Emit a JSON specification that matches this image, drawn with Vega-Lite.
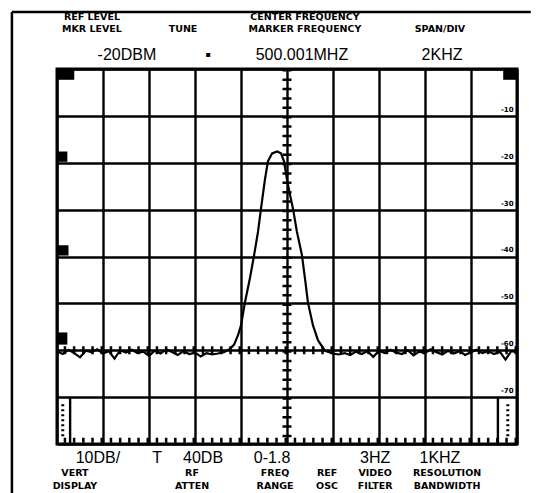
{
  "$schema": "https://vega.github.io/schema/vega-lite/v6.json",
  "width": 460,
  "height": 375,
  "autosize": {"type": "none"},
  "padding": {"left": 57, "top": 69, "right": 40, "bottom": 49},
  "background": "white",
  "config": {"view": {"stroke": "black", "strokeWidth": 3}},
  "data": {"values": [{}]},
  "datasets": {
    "trace": [
      {"kHz": -10, "dB": -60.2}, {"kHz": -9.75, "dB": -60.8}, {"kHz": -9.5, "dB": -59.9}, {"kHz": -9.25, "dB": -60.6},
      {"kHz": -9.0, "dB": -61.5}, {"kHz": -8.75, "dB": -60.1}, {"kHz": -8.5, "dB": -60.4}, {"kHz": -8.25, "dB": -59.8},
      {"kHz": -8.0, "dB": -60.7}, {"kHz": -7.75, "dB": -60.2}, {"kHz": -7.5, "dB": -61.8}, {"kHz": -7.25, "dB": -60.0},
      {"kHz": -7.0, "dB": -60.5}, {"kHz": -6.75, "dB": -59.9}, {"kHz": -6.5, "dB": -60.6}, {"kHz": -6.25, "dB": -60.3},
      {"kHz": -6.0, "dB": -61.2}, {"kHz": -5.75, "dB": -60.1}, {"kHz": -5.5, "dB": -60.7}, {"kHz": -5.25, "dB": -59.8},
      {"kHz": -5.0, "dB": -60.4}, {"kHz": -4.75, "dB": -61.0}, {"kHz": -4.5, "dB": -60.2}, {"kHz": -4.25, "dB": -60.8},
      {"kHz": -4.0, "dB": -60.5}, {"kHz": -3.75, "dB": -61.3}, {"kHz": -3.5, "dB": -60.6}, {"kHz": -3.25, "dB": -60.9},
      {"kHz": -3.0, "dB": -60.7}, {"kHz": -2.75, "dB": -60.4}, {"kHz": -2.5, "dB": -59.8}, {"kHz": -2.3, "dB": -58.8},
      {"kHz": -2.13, "dB": -56.8}, {"kHz": -2.0, "dB": -54.7}, {"kHz": -1.83, "dB": -49.8}, {"kHz": -1.61, "dB": -44.6},
      {"kHz": -1.43, "dB": -39.7}, {"kHz": -1.26, "dB": -34.7}, {"kHz": -1.13, "dB": -29.8}, {"kHz": -0.96, "dB": -23.6},
      {"kHz": -0.83, "dB": -19.7}, {"kHz": -0.65, "dB": -18.0}, {"kHz": -0.43, "dB": -17.6}, {"kHz": -0.26, "dB": -18.0},
      {"kHz": -0.13, "dB": -19.7}, {"kHz": 0.0, "dB": -23.6}, {"kHz": 0.13, "dB": -26.8}, {"kHz": 0.26, "dB": -29.8},
      {"kHz": 0.43, "dB": -34.7}, {"kHz": 0.65, "dB": -39.7}, {"kHz": 0.78, "dB": -44.6}, {"kHz": 0.91, "dB": -49.8},
      {"kHz": 1.13, "dB": -54.7}, {"kHz": 1.35, "dB": -57.9}, {"kHz": 1.65, "dB": -60.1}, {"kHz": 2.0, "dB": -60.7},
      {"kHz": 2.25, "dB": -60.9}, {"kHz": 2.5, "dB": -60.6}, {"kHz": 2.75, "dB": -61.0}, {"kHz": 3.0, "dB": -60.3},
      {"kHz": 3.25, "dB": -60.8}, {"kHz": 3.5, "dB": -60.2}, {"kHz": 3.75, "dB": -61.4}, {"kHz": 4.0, "dB": -60.1},
      {"kHz": 4.25, "dB": -60.6}, {"kHz": 4.5, "dB": -59.9}, {"kHz": 4.75, "dB": -60.5}, {"kHz": 5.0, "dB": -60.8},
      {"kHz": 5.25, "dB": -60.0}, {"kHz": 5.5, "dB": -61.1}, {"kHz": 5.75, "dB": -60.3}, {"kHz": 6.0, "dB": -60.6},
      {"kHz": 6.25, "dB": -59.8}, {"kHz": 6.5, "dB": -60.4}, {"kHz": 6.75, "dB": -60.9}, {"kHz": 7.0, "dB": -60.1},
      {"kHz": 7.25, "dB": -60.7}, {"kHz": 7.5, "dB": -60.2}, {"kHz": 7.75, "dB": -61.0}, {"kHz": 8.0, "dB": -60.4},
      {"kHz": 8.25, "dB": -59.9}, {"kHz": 8.5, "dB": -60.6}, {"kHz": 8.75, "dB": -60.2}, {"kHz": 9.0, "dB": -60.8},
      {"kHz": 9.25, "dB": -60.3}, {"kHz": 9.5, "dB": -62.0}, {"kHz": 9.75, "dB": -60.2}, {"kHz": 10.0, "dB": -60.4}
    ],
    "labels": [
      {"text": "REF LEVEL", "kind": "head", "kHz": -8.48, "dB": 11.0},
      {"text": "MKR LEVEL", "kind": "head", "kHz": -8.48, "dB": 8.6},
      {"text": "TUNE", "kind": "head", "kHz": -4.52, "dB": 8.6},
      {"text": "CENTER FREQUENCY", "kind": "head", "kHz": 0.78, "dB": 11.0},
      {"text": "MARKER FREQUENCY", "kind": "head", "kHz": 0.78, "dB": 8.6},
      {"text": "SPAN/DIV", "kind": "head", "kHz": 6.65, "dB": 8.6},
      {"text": "-20DBM", "kind": "value", "kHz": -6.96, "dB": 2.99},
      {"text": "▪", "kind": "value", "kHz": -3.43, "dB": 2.99},
      {"text": "500.001MHZ", "kind": "value", "kHz": 0.65, "dB": 2.99},
      {"text": "2KHZ", "kind": "value", "kHz": 6.74, "dB": 2.99},
      {"text": "10DB/", "kind": "value", "kHz": -8.22, "dB": -82.99},
      {"text": "T", "kind": "value", "kHz": -5.65, "dB": -82.99},
      {"text": "40DB", "kind": "value", "kHz": -3.65, "dB": -82.99},
      {"text": "0-1.8", "kind": "value", "kHz": -0.65, "dB": -82.99},
      {"text": "3HZ", "kind": "value", "kHz": 3.83, "dB": -82.99},
      {"text": "1KHZ", "kind": "value", "kHz": 6.65, "dB": -82.99},
      {"text": "VERT", "kind": "head", "kHz": -9.22, "dB": -86.19},
      {"text": "DISPLAY", "kind": "head", "kHz": -9.22, "dB": -88.96},
      {"text": "RF", "kind": "head", "kHz": -4.13, "dB": -86.19},
      {"text": "ATTEN", "kind": "head", "kHz": -4.13, "dB": -88.96},
      {"text": "FREQ", "kind": "head", "kHz": -0.52, "dB": -86.19},
      {"text": "RANGE", "kind": "head", "kHz": -0.52, "dB": -88.96},
      {"text": "REF", "kind": "head", "kHz": 1.74, "dB": -86.19},
      {"text": "OSC", "kind": "head", "kHz": 1.74, "dB": -88.96},
      {"text": "VIDEO", "kind": "head", "kHz": 3.83, "dB": -86.19},
      {"text": "FILTER", "kind": "head", "kHz": 3.83, "dB": -88.96},
      {"text": "RESOLUTION", "kind": "head", "kHz": 6.96, "dB": -86.19},
      {"text": "BANDWIDTH", "kind": "head", "kHz": 6.96, "dB": -88.96},
      {"text": "-10", "kind": "scale", "kHz": 9.85, "dB": -8.7},
      {"text": "-20", "kind": "scale", "kHz": 9.85, "dB": -18.7},
      {"text": "-30", "kind": "scale", "kHz": 9.85, "dB": -28.7},
      {"text": "-40", "kind": "scale", "kHz": 9.85, "dB": -38.7},
      {"text": "-50", "kind": "scale", "kHz": 9.85, "dB": -48.7},
      {"text": "-60", "kind": "scale", "kHz": 9.85, "dB": -58.7},
      {"text": "-70", "kind": "scale", "kHz": 9.85, "dB": -68.7}
    ]
  },
  "layer": [
    {
      "data": {"name": "trace"},
      "mark": {"type": "line", "color": "black", "strokeWidth": 2.2, "interpolate": "linear"},
      "encoding": {
        "x": {"field": "kHz", "type": "quantitative", "scale": {"domain": [-10, 10], "nice": false, "zero": false},
              "axis": {"values": [-10, -8, -6, -4, -2, 0, 2, 4, 6, 8, 10], "grid": true, "gridColor": "black", "gridWidth": 2.4, "gridOpacity": 1, "labels": false, "ticks": false, "domain": false, "title": null}},
        "y": {"field": "dB", "type": "quantitative", "scale": {"domain": [-80, 0], "nice": false, "zero": false},
              "axis": {"values": [-80, -70, -60, -50, -40, -30, -20, -10, 0], "grid": true, "gridColor": "black", "gridWidth": 2.4, "gridOpacity": 1, "labels": false, "ticks": false, "domain": false, "title": null}}
      }
    },
    {
      "mark": {"type": "rule", "color": "black", "strokeWidth": 9, "strokeDash": [2.5, 6.875]},
      "encoding": {"x": {"datum": 0, "type": "quantitative"}}
    },
    {
      "mark": {"type": "rule", "color": "black", "strokeWidth": 8, "strokeDash": [2.5, 6.7]},
      "encoding": {"y": {"datum": -60, "type": "quantitative"}}
    },
    {
      "mark": {"type": "rule", "color": "black", "strokeWidth": 5, "strokeDash": [2.5, 6.7]},
      "encoding": {"y": {"datum": -79.2, "type": "quantitative"}}
    },
    {
      "mark": {"type": "rule", "color": "black", "strokeWidth": 2.4},
      "encoding": {"x": {"datum": -9.43, "type": "quantitative"}, "y": {"datum": -70, "type": "quantitative"}, "y2": {"datum": -80}}
    },
    {
      "mark": {"type": "rule", "color": "black", "strokeWidth": 2.4},
      "encoding": {"x": {"datum": 9.17, "type": "quantitative"}, "y": {"datum": -70, "type": "quantitative"}, "y2": {"datum": -80}}
    },
    {
      "mark": {"type": "rule", "color": "black", "strokeWidth": 3, "strokeDash": [2, 3]},
      "encoding": {"x": {"datum": -9.75, "type": "quantitative"}, "y": {"datum": -71.5, "type": "quantitative"}, "y2": {"datum": -79}}
    },
    {
      "mark": {"type": "rule", "color": "black", "strokeWidth": 3, "strokeDash": [2, 3]},
      "encoding": {"x": {"datum": 9.6, "type": "quantitative"}, "y": {"datum": -71.5, "type": "quantitative"}, "y2": {"datum": -79}}
    },
    {
      "mark": {"type": "rect", "color": "black"},
      "encoding": {"x": {"datum": -10, "type": "quantitative"}, "x2": {"datum": -9.25}, "y": {"datum": 0, "type": "quantitative"}, "y2": {"datum": -2.3}}
    },
    {
      "mark": {"type": "rect", "color": "black"},
      "encoding": {"x": {"datum": 9.4, "type": "quantitative"}, "x2": {"datum": 10}, "y": {"datum": 0, "type": "quantitative"}, "y2": {"datum": -2.3}}
    },
    {
      "mark": {"type": "rect", "color": "black"},
      "encoding": {"x": {"datum": -10, "type": "quantitative"}, "x2": {"datum": -9.55}, "y": {"datum": -17.6, "type": "quantitative"}, "y2": {"datum": -19.8}}
    },
    {
      "mark": {"type": "rect", "color": "black"},
      "encoding": {"x": {"datum": -10, "type": "quantitative"}, "x2": {"datum": -9.5}, "y": {"datum": -37.6, "type": "quantitative"}, "y2": {"datum": -39.8}}
    },
    {
      "mark": {"type": "rect", "color": "black"},
      "encoding": {"x": {"datum": -10, "type": "quantitative"}, "x2": {"datum": -9.55}, "y": {"datum": -56.2, "type": "quantitative"}, "y2": {"datum": -58.8}}
    },
    {
      "mark": {"type": "rule", "color": "black", "strokeWidth": 2.5, "clip": false},
      "encoding": {"x": {"datum": -11.96, "type": "quantitative"}, "y": {"datum": 12.16, "type": "quantitative"}, "y2": {"datum": -91}}
    },
    {
      "mark": {"type": "rule", "color": "black", "strokeWidth": 2.5, "clip": false},
      "encoding": {"x": {"datum": -11.96, "type": "quantitative"}, "x2": {"datum": 10.6}, "y": {"datum": 12.16, "type": "quantitative"}}
    },
    {
      "data": {"name": "labels"},
      "transform": [{"filter": "datum.kind === 'head'"}],
      "mark": {"type": "text", "font": "DejaVu Sans", "fontWeight": "bold", "fontSize": 9.5, "color": "black", "align": "center", "baseline": "middle", "clip": false},
      "encoding": {"x": {"field": "kHz", "type": "quantitative"}, "y": {"field": "dB", "type": "quantitative"}, "text": {"field": "text"}}
    },
    {
      "data": {"name": "labels"},
      "transform": [{"filter": "datum.kind === 'value'"}],
      "mark": {"type": "text", "font": "Liberation Sans", "fontSize": 16, "color": "black", "align": "center", "baseline": "middle", "clip": false},
      "encoding": {"x": {"field": "kHz", "type": "quantitative"}, "y": {"field": "dB", "type": "quantitative"}, "text": {"field": "text"}}
    },
    {
      "data": {"name": "labels"},
      "transform": [{"filter": "datum.kind === 'scale'"}],
      "mark": {"type": "text", "font": "DejaVu Sans", "fontWeight": "bold", "fontSize": 7, "color": "black", "align": "right", "baseline": "middle", "clip": false},
      "encoding": {"x": {"field": "kHz", "type": "quantitative"}, "y": {"field": "dB", "type": "quantitative"}, "text": {"field": "text"}}
    }
  ]
}
